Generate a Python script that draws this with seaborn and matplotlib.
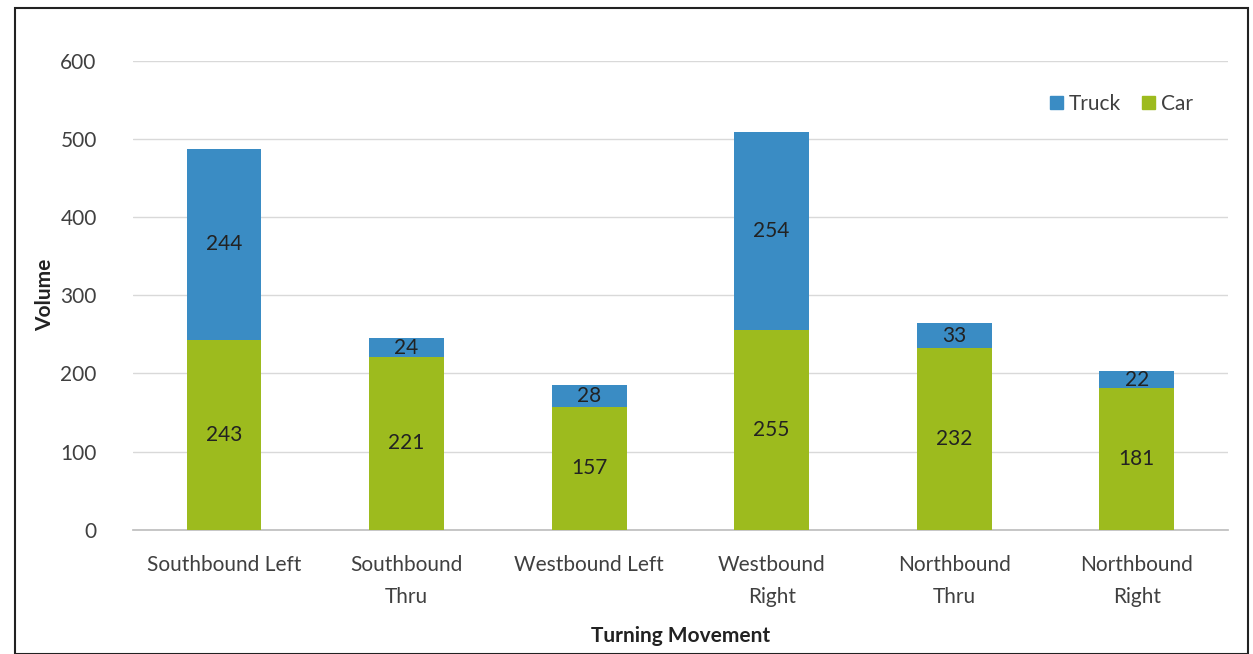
import matplotlib
matplotlib.use("Agg")
import matplotlib.pyplot as plt
import seaborn as sns
import pandas as pd
from matplotlib.patches import Rectangle, Patch

categories = ["Southbound Left", "Southbound\nThru", "Westbound Left",
              "Westbound\nRight", "Northbound\nThru", "Northbound\nRight"]
car = [243, 221, 157, 255, 232, 181]
truck = [244, 24, 28, 254, 33, 22]

sns.set_theme(style="white")
plt.rcParams['font.family'] = ['Lato', 'DejaVu Sans']

blue = "#3a8cc4"
green = "#9dbb1e"

df = pd.DataFrame({"cat": categories, "car": car, "truck": truck})
df["total"] = df["car"] + df["truck"]

fig = plt.figure(figsize=(12.53, 6.54), dpi=100)
ax = fig.add_axes([0.106, 0.19, 0.874, 0.717])

sns.barplot(data=df, x="cat", y="total", color=blue, width=0.41, ax=ax,
            saturation=1, zorder=2, linewidth=0, edgecolor="none")
sns.barplot(data=df, x="cat", y="car", color=green, width=0.41, ax=ax,
            saturation=1, zorder=3, linewidth=0, edgecolor="none")

for i, (c, t) in enumerate(zip(car, truck)):
    ax.text(i, c / 2, str(c), ha="center", va="center", fontsize=15, color="#222222", zorder=4)
    ax.text(i, c + t / 2, str(t), ha="center", va="center", fontsize=15, color="#222222", zorder=4)

ax.set_ylim(0, 600)
ax.set_yticks(range(0, 601, 100))
ax.yaxis.grid(True, color="#d9d9d9", linewidth=1, zorder=0)
ax.set_axisbelow(True)
for s in ["top", "right", "left"]:
    ax.spines[s].set_visible(False)
ax.spines["bottom"].set_color("#bfbfbf")
ax.tick_params(axis="y", length=0, labelsize=15, colors="#404040", pad=26)
ax.tick_params(axis="x", length=0, labelsize=15, colors="#404040", pad=18)
for lbl in ax.get_xticklabels():
    lbl.set_linespacing(1.75)
ax.set_xlim(-0.5, 5.5)

ax.set_xlabel("Turning Movement", fontsize=15, fontweight="bold", color="#222222")
ax.set_ylabel("Volume", fontsize=15, fontweight="bold", color="#222222")
ax.xaxis.set_label_coords(0.5, -0.226)
ax.yaxis.set_label_coords(-0.080, 0.5)
ax.xaxis.label.set_va("center")
ax.yaxis.label.set_va("center")

handles = [Patch(color=blue, label="Truck"), Patch(color=green, label="Car")]
ax.legend(handles=handles, loc="upper right", bbox_to_anchor=(0.985, 0.97), ncol=2,
          frameon=False, fontsize=15, handlelength=0.6, handleheight=0.6,
          handletextpad=0.3, columnspacing=1.0, labelcolor="#404040")

fig.patches.append(Rectangle((15 / 1253, 0.0), 1233 / 1253, 646 / 654,
                             transform=fig.transFigure, fill=False,
                             edgecolor="#222222", linewidth=1.5))

fig.savefig("out.png", dpi=100)
